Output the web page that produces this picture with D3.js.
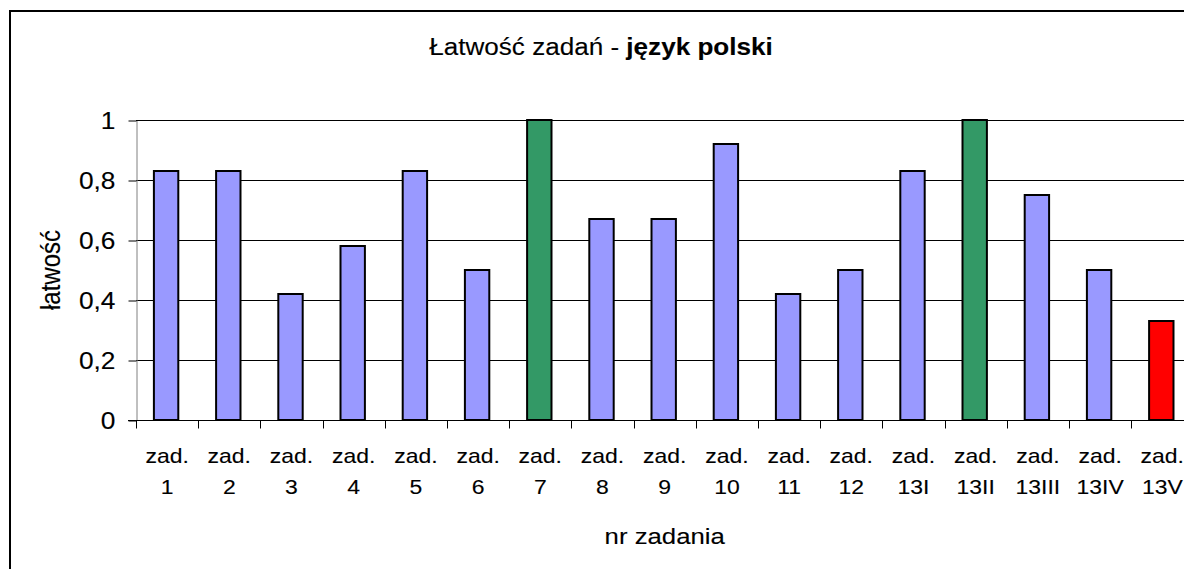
<!DOCTYPE html>
<html>
<head>
<meta charset="utf-8">
<script src="https://cdn.jsdelivr.net/npm/d3@7"></script>
<style>
  body { margin: 0; background: #fff; }
  text { font-family: "Liberation Sans", Arial, sans-serif; fill: #000; stroke: #000; stroke-width: 0.12px; }
</style>
</head>
<body>
<div id="chart"></div>
<script>
// data
const categories = ["zad. 1", "zad. 2", "zad. 3", "zad. 4", "zad. 5", "zad. 6", "zad. 7", "zad. 8", "zad. 9",
                    "zad. 10", "zad. 11", "zad. 12", "zad. 13I", "zad. 13II", "zad. 13III", "zad. 13IV", "zad. 13V"];
const latwosc = [0.83, 0.83, 0.42, 0.58, 0.83, 0.5, 1, 0.67, 0.67, 0.92, 0.42, 0.5, 0.83, 1, 0.75, 0.5, 0.33];
const yTicks = [0, 0.2, 0.4, 0.6, 0.8, 1];
const yTickLabels = ["0", "0,2", "0,4", "0,6", "0,8", "1"];

const chart = {
  specs : {
    width : 1184,
    height : 569,
    plot : {left: 136, right: 1193.4, top: 120, bottom: 420},
    stretch : 1.12   // the source picture is a bit wider than tall, text too
  },
  svgEl : null,
  initialize : () => {
    chart.svgEl = d3.select("#chart")
      .append("svg")
      .attr("width", chart.specs.width)
      .attr("height", chart.specs.height);
    chart.draw();
  },
  draw : () => {
    const svg = chart.svgEl;
    const {plot, stretch} = chart.specs;
    const sx = stretch;

    // outer chart border (right and bottom edges fall outside the picture)
    svg.append("rect")
      .attr("x", 10).attr("y", 11)
      .attr("width", 1200).attr("height", 600)
      .attr("fill", "none")
      .attr("stroke", "#000")
      .attr("stroke-width", 2);

    const x = d3.scaleBand()
      .domain(categories)
      .range([plot.left, plot.right])
      .padding(0);

    const y = d3.scaleLinear()
      .domain([0, 1])
      .range([plot.bottom, plot.top]);

    // gridlines
    svg.append("g")
      .selectAll("line")
      .data(yTicks.filter(d => d > 0))
      .join("line")
        .attr("x1", plot.left)
        .attr("x2", plot.right)
        .attr("y1", d => Math.round(y(d)) + 0.5)
        .attr("y2", d => Math.round(y(d)) + 0.5)
        .attr("stroke", "#000")
        .attr("stroke-width", 1);

    // y axis
    const gy = svg.append("g")
      .attr("transform", "translate(" + (plot.left + 0.5) + ",0.5)")
      .call(d3.axisLeft(y)
        .tickValues(yTicks)
        .tickFormat((d, i) => yTickLabels[i])
        .tickSize(8)
        .tickSizeOuter(0));
    gy.select(".domain").attr("stroke", "#808080");
    gy.selectAll(".tick line").attr("stroke", "#000");
    gy.selectAll(".tick text")
      .attr("x", 0)
      .attr("dy", "0.35em")
      .attr("transform", "translate(-21,0) scale(" + sx + ",1)")
      .style("font-size", "23.5px")
      .style("font-family", "'Liberation Sans', Arial, sans-serif");

    // bars
    const barW = x.bandwidth() / 2.55;
    const barColor = v => v >= 1 ? "#339966" : (v < 0.4 ? "#FF0000" : "#9999FF");
    svg.append("g")
      .selectAll("rect")
      .data(latwosc)
      .join("rect")
        .attr("x", (d, i) => x(categories[i]) + (x.bandwidth() - barW) / 2 - 1)
        .attr("width", barW)
        .attr("y", d => y(d))
        .attr("height", d => y(0) - y(d))
        .attr("fill", d => barColor(d))
        .attr("stroke", "#000")
        .attr("stroke-width", 2);

    // x axis line + category ticks
    const y0 = Math.round(y(0)) + 0.5;
    svg.append("line")
      .attr("x1", plot.left - 8).attr("x2", plot.right)
      .attr("y1", y0).attr("y2", y0)
      .attr("stroke", "#000");
    const bounds = categories.map(c => x(c)).concat([plot.right]);
    svg.append("g")
      .selectAll("line")
      .data(bounds)
      .join("line")
        .attr("x1", d => Math.round(d) + 0.5)
        .attr("x2", d => Math.round(d) + 0.5)
        .attr("y1", y0)
        .attr("y2", y0 + 8)
        .attr("stroke", "#000");

    // category labels on two lines
    const lbl = svg.append("g")
      .selectAll("text")
      .data(categories)
      .join("text")
        .attr("transform", d => "translate(" + (x(d) + x.bandwidth() / 2) + ",463) scale(" + sx + ",1)")
        .attr("text-anchor", "middle")
        .style("font-size", "20.5px");
    lbl.append("tspan").attr("x", 0).attr("y", 0).text(d => d.split(" ")[0]);
    lbl.append("tspan").attr("x", 0).attr("y", 31).text(d => d.split(" ")[1]);

    // title
    const title = svg.append("text")
      .attr("transform", "translate(601,55) scale(" + sx + ",1)")
      .attr("text-anchor", "middle")
      .style("font-size", "23.3px");
    title.append("tspan").text("Łatwość zadań - ");
    title.append("tspan").style("font-weight", "bold").text("język polski");

    // axis titles
    svg.append("text")
      .attr("transform", "translate(" + ((plot.left + plot.right) / 2) + ",544) scale(" + sx + ",1)")
      .attr("text-anchor", "middle")
      .style("font-size", "23px")
      .text("nr zadania");

    svg.append("text")
      .attr("transform", "translate(60," + ((plot.top + plot.bottom) / 2) + ") scale(" + sx + ",1) rotate(-90)")
      .attr("text-anchor", "middle")
      .style("font-size", "24px")
      .text("łatwość");
  }
}

document.addEventListener("DOMContentLoaded", chart.initialize());
</script>
</body>
</html>
